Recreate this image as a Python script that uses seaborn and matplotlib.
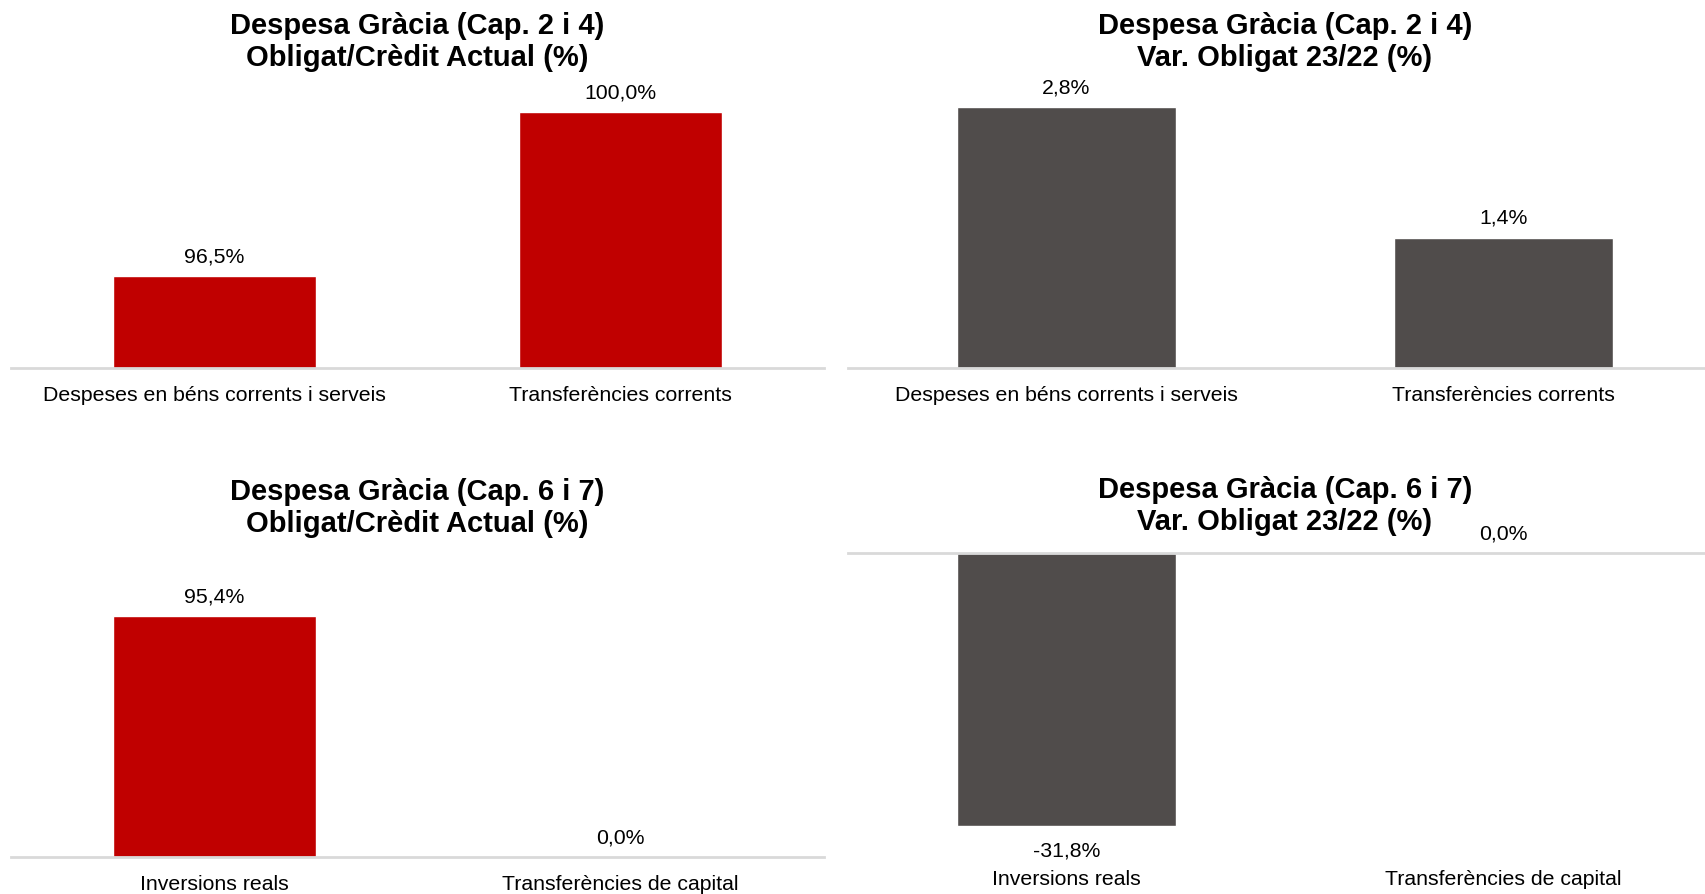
import matplotlib
matplotlib.use("Agg")
import matplotlib.pyplot as plt
import seaborn as sns

# --- dati ---
cat_cap24 = ["Despeses en béns corrents i serveis", "Transferències corrents"]
cat_cap67 = ["Inversions reals", "Transferències de capital"]

obl_cred_cap24 = [96.5, 100.0]
var_obl_cap24 = [2.8, 1.4]
obl_cred_cap67 = [95.4, 0.0]
var_obl_cap67 = [-31.8, 0.0]

titols = [
    "Despesa Gràcia (Cap. 2 i 4)\nObligat/Crèdit Actual (%)",
    "Despesa Gràcia (Cap. 2 i 4)\nVar. Obligat 23/22 (%)",
    "Despesa Gràcia (Cap. 6 i 7)\nObligat/Crèdit Actual (%)",
    "Despesa Gràcia (Cap. 6 i 7)\nVar. Obligat 23/22 (%)",
]

VERMELL = "#C00000"
GRIS = "#504C4B"
LINIA = "#D9D9D9"

sns.set_style("white")
plt.rcParams["font.family"] = ["Liberation Sans", "DejaVu Sans"]
plt.rcParams["text.color"] = "black"
plt.rcParams["xtick.color"] = "black"

W, H = 1706, 895
fig = plt.figure(figsize=(W / 100, H / 100), dpi=100)


def eixos(l, r, b, t):
    # posicio en pixels -> fraccio de figura
    return fig.add_axes([l / W, 1 - b / H, (r - l) / W, (b - t) / H])


panells = [
    # (cats, valors, color, rect pixels, ylim, titol y)
    (cat_cap24, obl_cred_cap24, VERMELL, (11, 824, 369, 100), (94.55, 100.28), 42),
    (cat_cap24, var_obl_cap24, GRIS, (848, 1722, 369, 100), (0, 2.886), 42),
    (cat_cap67, obl_cred_cap67, VERMELL, (11, 824, 858, 554), (0, 120.2), 508),
    (cat_cap67, var_obl_cap67, GRIS, (848, 1722, 853, 554), (-34.84, 0), 506),
]

FS = 15.3

for i, (cats, vals, color, rect, ylim, ty) in enumerate(panells):
    ax = eixos(*rect)
    sns.barplot(x=cats, y=vals, color=color, saturation=1, width=0.5, ax=ax)
    ax.set_ylim(*ylim)
    ax.set_xlim(-0.5, 1.5)
    ax.set_yticks([])
    ax.set_ylabel("")
    ax.set_xlabel("")
    for s in ["left", "right", "top", "bottom"]:
        ax.spines[s].set_visible(False)
    if ylim[1] == 0:
        ax.spines["top"].set_visible(True)
        ax.spines["top"].set_color(LINIA)
        ax.spines["top"].set_linewidth(2)
    else:
        ax.spines["bottom"].set_visible(True)
        ax.spines["bottom"].set_color(LINIA)
        ax.spines["bottom"].set_linewidth(2)
    ax.tick_params(axis="x", length=0, labelsize=FS, pad=12, labelcolor="black")
    ax.patch.set_alpha(0)

    for j, v in enumerate(vals):
        txt = f"{v:.1f}%".replace(".", ",")
        if v >= 0:
            ax.annotate(txt, (j, v), xytext=(0, 14.5), textcoords="offset points",
                        ha="center", va="center", fontsize=FS, color="black",
                        annotation_clip=False)
        else:
            ax.annotate(txt, (j, v), xytext=(0, -17), textcoords="offset points",
                        ha="center", va="center", fontsize=FS, color="black",
                        annotation_clip=False)

    cx = (rect[0] + rect[1]) / 2 / W
    fig.text(cx, 1 - ty / H, titols[i], ha="center", va="center", color="black",
             fontsize=21, fontweight="bold", linespacing=1.15)

fig.savefig("out.png", dpi=100, facecolor="white")
